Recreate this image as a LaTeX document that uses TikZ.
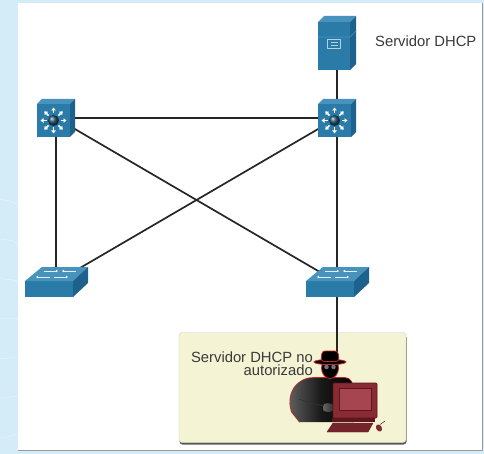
\documentclass[tikz,border=0pt]{standalone}
\usepackage{fontspec}
\setmainfont{Liberation Sans}
\usetikzlibrary{arrows.meta,shadows}

\definecolor{swfront}{HTML}{2A7BA8}
\definecolor{swtop}{HTML}{4893BE}
\definecolor{swside}{HTML}{1C628C}
\definecolor{swball}{HTML}{1F4E6A}
\definecolor{bgblue}{HTML}{D3ECF7}
\definecolor{notefill}{HTML}{F4F3D4}
\definecolor{pcred}{HTML}{8A2A33}
\definecolor{pcscreen}{HTML}{A64550}
\definecolor{pcdark}{HTML}{5E161D}
\definecolor{glow}{HTML}{BE2A2A}
\definecolor{labelgray}{HTML}{3A3A3A}

\tikzset{
  dev/.style={coordinate},
  link/.style={line width=1.7pt, black!85},
  lbl/.style={font=\fontsize{14.8}{13.5}\selectfont, text=labelgray, inner sep=0pt},
  notebox/.style={draw=black!20, fill=notefill, rounded corners=3pt,
    minimum width=227pt, minimum height=110pt,
    drop shadow={shadow xshift=.5pt, shadow yshift=-2pt, fill=black!65, opacity=1}},
  % multilayer switch: cube with star
  pics/mlswitch/.style={code={
    \fill[swfront] (-19,-14) rectangle (14,19);
    \fill[swtop] (-19,-14) -- (-14,-19) -- (19,-19) -- (14,-14) -- cycle;
    \fill[swside] (14,-14) -- (19,-19) -- (19,14) -- (14,19) -- cycle;
    \begin{scope}[shift={(-2.5,2.5)}]
      \foreach \a in {0,45,...,315}
        \draw[white, line width=1.6pt, -{Triangle[length=3pt,width=4.5pt]}] (\a:7) -- (\a:13);
      \shade[ball color=swball] (0,0) circle (5.5);
    \end{scope}
  }},
  % access switch: flat box
  pics/l2switch/.style={code={
    \fill[swfront] (-31,-1) rectangle (17,15);
    \fill[swtop] (-31,-1) -- (-14,-15) -- (32,-15) -- (17,-1) -- cycle;
    \fill[swside] (17,-1) -- (32,-15) -- (32,1) -- (17,15) -- cycle;
    \begin{scope}[white, line width=.8pt, opacity=.85, -{Triangle[length=2pt,width=2.5pt]}]
      \draw (-12,-11) -- (2,-11);
      \draw (20,-11) -- (6,-11);
      \draw (-6,-5) -- (-20,-5);
      \draw (-2,-5) -- (12,-5);
    \end{scope}
  }},
  % tower server
  pics/dhcpsrv/.style={code={
    \fill[swfront] (-19,-21) rectangle (13,27);
    \fill[swtop] (-19,-21) -- (-13,-27) -- (19,-27) -- (13,-21) -- cycle;
    \fill[swside] (13,-21) -- (19,-27) -- (19,21) -- (13,27) -- cycle;
    \draw[swtop, line width=.6pt] (-19,-6) -- (13,-6) -- (19,-12);
    \draw[white!65!swfront, line width=.9pt] (-9.5,-4) rectangle (3.5,5);
    \draw[white!65!swfront, line width=.6pt] (-6.5,-1) -- (0.5,-1) (-6.5,2) -- (0.5,2);
  }},
  % hooded figure at a terminal
  pics/hacker/.style={code={
    \draw[glow, line width=1.6pt]
      (-35,27) -- (-43,17) .. controls (-47,6) and (-44,-6) .. (-36,-12)
      .. controls (-31,-16) and (-26,-17) .. (-22,-17) -- (10,-17)
      .. controls (15,-17) and (18,-12) .. (18,-6) -- (18,27);
    \shade[left color=black!62, right color=black, middle color=black!90]
      (-35,27) -- (-43,17) .. controls (-47,6) and (-44,-6) .. (-36,-12)
      .. controls (-31,-16) and (-26,-17) .. (-22,-17) -- (10,-17)
      .. controls (15,-17) and (18,-12) .. (18,-6) -- (18,27) -- cycle;
    \draw[black!80, line width=.8pt] (-36,4) .. controls (-26,8) and (-16,11) .. (-6,11);
    \shade[left color=black!60, right color=black!85] (-11,9) .. controls (-6,7) and (0,9) .. (0,13)
      .. controls (-2,18) and (-9,18) .. (-12,15) -- cycle;
    \filldraw[draw=glow, fill=black, line width=.8pt] (-5,-27) ellipse (8.5 and 10.5);
    \fill[black!55] (-8.5,-28) circle (2.3) (-1.5,-28) circle (2.3);
    \filldraw[draw=glow, fill=black, line width=.8pt] (-5,-33) ellipse (16 and 2.6);
    \filldraw[draw=glow, fill=black, line width=.8pt, rounded corners=3pt]
      (-14,-33.5) -- (-13,-44) -- (3,-44) -- (4,-33.5) -- cycle;
    \filldraw[draw=pcdark, fill=pcred, line width=.6pt, rounded corners=1pt] (-2,-12) rectangle (42,23);
    \filldraw[draw=pcdark, fill=pcscreen, line width=.4pt] (4,-7) rectangle (36,15);
    \fill[pcdark] (-3,23) rectangle (40,27);
    \filldraw[draw=pcdark, fill=pcred!85!black, line width=.4pt]
      (-8,37) -- (33,37) -- (38,28) -- (-2,28) -- cycle;
    \filldraw[draw=pcdark, fill=pcred, line width=.4pt, rotate around={30:(44,33)}] (44,33) ellipse (2.5 and 3.5);
    \draw[pcdark, line width=.5pt] (45,29.5) .. controls (47,27) and (49,28) .. (50,26);
  }}
}

\begin{document}
\begin{tikzpicture}[x=1pt,y=-1pt,line join=round]
  \useasboundingbox (0,0) rectangle (484,454);
  % backdrop and sheet
  \fill[bgblue] (0,0) rectangle (484,454);
  \begin{scope}
    \clip (0,0) rectangle (18,454);
    \foreach \s in {0,...,6}
      \draw[white, opacity=.45, line width=.5pt]
        (-20,180+40*\s) .. controls (10,230+40*\s) and (20,150+40*\s) .. (40,300+30*\s);
  \end{scope}
  \fill[white] (18,3) rectangle (482,450);
  \draw[black!40, line width=1pt] (18,450.5) -- (482.5,450.5) -- (482.5,3);

  \node[notebox] (note) at (292.5,387.5) {};

  \node[dev] (srv) at (337,43) {};
  \node[dev] (ml1) at (56,118) {};
  \node[dev] (ml2) at (337,118) {};
  \node[dev] (as1) at (56,282) {};
  \node[dev] (as2) at (337,282) {};
  \node[dev] (hk)  at (337,358) {};

  \path[link]
  (ml1) edge (ml2)
  (ml1) edge (as1)
  (ml1) edge (as2)
  (ml2) edge (as1)
  (ml2) edge (as2)
  (ml2) edge (srv)
  (as2) edge (hk)
  ;

  \pic at (srv) {dhcpsrv};
  \pic at (ml1) {mlswitch};
  \pic at (ml2) {mlswitch};
  \pic at (as1) {l2switch};
  \pic at (as2) {l2switch};
  \pic at (335,395) {hacker};

  \node[lbl, anchor=west] (srvlbl) at (375,41) {Servidor DHCP};
  \node[lbl, align=right, anchor=north east] (hklbl) at (313,351.5) {Servidor DHCP no\\autorizado};
\end{tikzpicture}
\end{document}
